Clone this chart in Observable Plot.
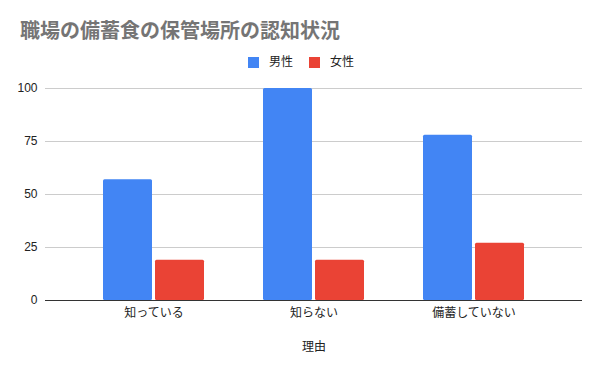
<!DOCTYPE html>
<html>
<head>
<meta charset="utf-8">
<script src="https://cdn.jsdelivr.net/npm/d3@7"></script>
<script src="https://cdn.jsdelivr.net/npm/@observablehq/plot@0.6"></script>
<style>
  html, body { margin: 0; padding: 0; background: #fff; }
  #wrap { position: relative; width: 600px; height: 371px; overflow: hidden;
          font-family: "Liberation Sans", Arial, "Noto Sans CJK JP", sans-serif; }
  #title { position: absolute; left: 20px; top: 19px; font-size: 20px; line-height: 24px;
           font-weight: bold; color: #757575; white-space: nowrap; }
  #legend { position: absolute; left: 248px; top: 53px; font-size: 12px; line-height: 18px;
            color: #222; display: flex; align-items: center; white-space: nowrap; }
  .sw { display: inline-block; width: 11px; height: 11px; margin-right: 10px; }
  .item { display: flex; align-items: center; margin-right: 16px; }
  #chart { position: absolute; left: 0; top: 75px; }
</style>
</head>
<body>
<div id="wrap">
  <div id="title"></div>
  <div id="legend"></div>
  <div id="chart"></div>
</div>
<script>
const titleText = "職場の備蓄食の保管場所の認知状況";
const categories = ["知っている", "知らない", "備蓄していない"];
const seriesNames = ["男性", "女性"];
const seriesColors = ["#4285F4", "#EA4335"];
const maleValues = [57, 100, 78];
const femaleValues = [19, 19, 27];
const yTicks = [0, 25, 50, 75, 100];
const xLabel = "理由";

document.getElementById("title").textContent = titleText;
const legend = document.getElementById("legend");
seriesNames.forEach((name, i) => {
  const item = document.createElement("span");
  item.className = "item";
  const sw = document.createElement("span");
  sw.className = "sw";
  sw.style.background = seriesColors[i];
  item.appendChild(sw);
  item.appendChild(document.createTextNode(name));
  legend.appendChild(item);
});

const rows = categories.map((c, i) => ({category: c, male: maleValues[i], female: femaleValues[i]}));

const chart = Plot.plot({
  width: 600,
  height: 296,
  marginTop: 13,
  marginBottom: 71,
  marginLeft: 45,
  marginRight: 18,
  style: {fontFamily: '"Liberation Sans", Arial, "Noto Sans CJK JP", sans-serif', fontSize: "12px", color: "#222", background: "#fff"},
  x: {domain: categories, paddingInner: 0.37, paddingOuter: 0.363},
  y: {domain: [0, 100]},
  marks: [
    Plot.ruleY(yTicks, {stroke: "#cccccc", strokeWidth: 1}),
    Plot.barY(rows, {x: "category", y: "male", fill: seriesColors[0], insetRight: 52, rx: 1.5}),
    Plot.barY(rows, {x: "category", y: "female", fill: seriesColors[1], insetLeft: 52, rx: 1.5}),
    Plot.ruleY([0], {stroke: "#333", strokeWidth: 1}),
    Plot.axisY({ticks: yTicks, tickSize: 0, tickPadding: 8, label: null, fill: "#222"}),
    Plot.axisX({tickSize: 0, tickPadding: 8, label: xLabel, labelAnchor: "center", labelOffset: 50, fill: "#222"})
  ]
});
document.getElementById("chart").appendChild(chart);
</script>
</body>
</html>
